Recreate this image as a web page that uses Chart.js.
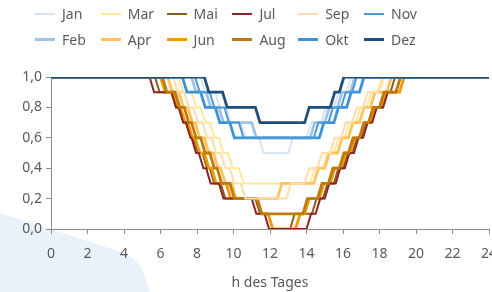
<!DOCTYPE html>
<html>
<head>
<meta charset="utf-8">
<script src="https://cdn.jsdelivr.net/npm/chart.js@4/dist/chart.umd.min.js"></script>
<style>
  html, body { margin: 0; padding: 0; background: #fff; overflow: hidden; }
  #wrap { position: relative; width: 492px; height: 292px; font-family: "Noto Sans", sans-serif; }
  #deco { position: absolute; left: 0; top: 0; }
  #chartBox { position: absolute; left: 0; top: 0; width: 492px; height: 292px; }
  .lg { position: absolute; font-size: 14px; color: #595959; line-height: 16px; white-space: nowrap; }
  .lg i { display: inline-block; width: 20px; vertical-align: middle; margin-right: 7px; position: relative; top: -1px; }
</style>
</head>
<body>
<div id="wrap">
  <svg id="deco" width="492" height="292"><path d="M0,213 L112,249 Q138,257 143,272 L150,292 L0,292 Z" fill="#E9F1FA"/></svg>
  <div id="chartBox"><canvas id="dayChart" width="492" height="292"></canvas></div>
  <div id="legend"></div>
</div>
<script>
// Monate + Farben
const months = ["Jan", "Feb", "Mar", "Apr", "Mai", "Jun", "Jul", "Aug", "Sep", "Okt", "Nov", "Dez"];
const colors = ["#D6E4F4", "#9DC3E6", "#FFE89A", "#FFC35C", "#85601F", "#F29A00",
                "#8E2424", "#BE7A0E", "#FFDCAA", "#3A93DA", "#4B9AD5", "#1E4E79"];
const widths = [2, 2.8, 2, 2.8, 2, 2.8, 2, 2.8, 2, 2.8, 2, 2.8];

// Uhrzeiten, an denen der Wert um 0,1 faellt (down) bzw. steigt (up)
const janDown = [8.2, 9.0, 9.6, 10.4, 11.4];
const janUp   = [13.0, 14.0, 14.8, 15.5, 16.2];
const febDown = [7.7, 8.5, 9.2, 11.0];
const febUp   = [14.2, 15.0, 15.7, 16.4];
const marDown = [7.0, 7.7, 8.2, 8.7, 9.2, 9.7, 10.3];
const marUp   = [14.2, 14.9, 15.5, 16.1, 16.7, 17.3, 18.0];
const aprDown = [6.4, 7.0, 7.5, 7.9, 8.4, 8.9, 9.3, 9.9];
const aprUp   = [12.4, 14.4, 15.0, 15.7, 16.3, 16.9, 17.5, 18.4];
const maiDown = [5.7, 6.6, 7.0, 7.4, 7.8, 8.3, 8.7, 9.3, 11.2, 11.9];
const maiUp   = [13.1, 14.3, 14.9, 15.5, 16.0, 16.5, 17.0, 17.5, 18.0, 18.6];
const junDown = [6.0, 6.7, 7.1, 7.5, 7.9, 8.4, 8.8, 9.6, 11.3, 11.9];
const junUp   = [13.4, 13.9, 14.7, 15.3, 15.9, 16.4, 16.9, 17.5, 18.1, 19.1];
const julDown = [5.4, 6.6, 7.0, 7.4, 7.7, 8.1, 8.5, 9.2, 11.0, 11.7];
const julUp   = [14.0, 14.5, 15.0, 15.6, 16.1, 16.6, 17.1, 17.6, 18.2, 18.9];
const augDown = [6.1, 6.8, 7.3, 7.7, 8.2, 8.7, 9.1, 9.8, 11.3];
const augUp   = [13.8, 14.6, 15.2, 15.8, 16.3, 16.9, 17.4, 18.0, 18.9];
const sepDown = [6.7, 7.3, 7.8, 8.3, 8.8, 9.3, 9.8, 10.4];
const sepUp   = [12.9, 13.9, 14.6, 15.3, 15.9, 16.5, 17.1, 17.9];
const oktDown = [7.2, 8.2, 9.0, 9.8];
const oktUp   = [14.7, 15.5, 16.2, 16.9];
const novDown = [7.9, 8.7, 9.5, 10.3];
const novUp   = [14.4, 15.2, 15.9, 16.5];
const dezDown = [8.4, 9.4, 11.2];
const dezUp   = [13.9, 15.3, 15.8];

const downs = [janDown, febDown, marDown, aprDown, maiDown, junDown, julDown, augDown, sepDown, oktDown, novDown, dezDown];
const ups   = [janUp, febUp, marUp, aprUp, maiUp, junUp, julUp, augUp, sepUp, oktUp, novUp, dezUp];

const RAMP = 0.25; // Dauer eines Wechsels (Viertelstunde)

function buildPoints(down, up) {
    let v = 10;
    const pts = [{ x: 0, y: 1 }];
    down.forEach(t => { pts.push({ x: t, y: v / 10 }); v--; pts.push({ x: t + RAMP, y: v / 10 }); });
    up.forEach(t => { pts.push({ x: t, y: v / 10 }); v++; pts.push({ x: t + RAMP, y: v / 10 }); });
    pts.push({ x: 24, y: 1 });
    return pts;
}

const datasets = months.map((m, i) => ({
    label: m,
    data: buildPoints(downs[i], ups[i]),
    borderColor: colors[i],
    borderWidth: widths[i],
    pointRadius: 0,
    fill: false,
    tension: 0,
    order: 11 - i
}));

// Legende (2 Zeilen, spaltenweise)
const legend = document.getElementById("legend");
months.forEach((m, i) => {
    const col = Math.floor(i / 2), row = i % 2;
    const d = document.createElement("div");
    d.className = "lg";
    d.style.left = (35 + col * 65.8) + "px";
    d.style.top = (6 + row * 25.5) + "px";
    d.innerHTML = '<i style="height:' + Math.round(widths[i]) + 'px;background:' + colors[i] + '"></i>' + m;
    legend.appendChild(d);
});

const axisGrey = "#8C8C8C";
const txtGrey = "#595959";
const font = { family: "Noto Sans", size: 14 };

new Chart(document.getElementById("dayChart").getContext("2d"), {
    type: "line",
    data: { datasets: datasets },
    options: {
        responsive: false,
        animation: false,
        layout: { padding: { top: 77, right: 3, left: 0, bottom: 0 } },
        plugins: { legend: { display: false }, tooltip: { enabled: false } },
        scales: {
            x: {
                type: "linear", min: 0, max: 24,
                ticks: { stepSize: 2, color: txtGrey, font: font, padding: 12, maxRotation: 0 },
                grid: { drawOnChartArea: false, drawTicks: true, tickLength: 5, color: axisGrey },
                border: { color: axisGrey, width: 1 },
                title: { display: true, text: "h des Tages", color: txtGrey, font: font, padding: { top: 4, bottom: 1 } },
                afterFit: s => { s.height = 63; s.paddingRight = 0; }
            },
            y: {
                min: 0, max: 1,
                ticks: { stepSize: 0.2, color: txtGrey, font: font, padding: 4,
                         callback: v => v.toFixed(1).replace(".", ",") },
                grid: { drawOnChartArea: false, drawTicks: true, tickLength: 5, color: axisGrey },
                border: { color: axisGrey, width: 1 },
                afterFit: s => { s.width = 51; }
            }
        }
    }
});
</script>
</body>
</html>
